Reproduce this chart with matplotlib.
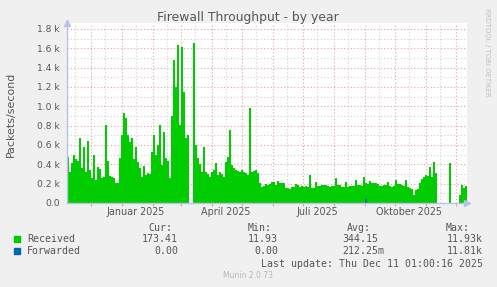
import numpy as np
import matplotlib
matplotlib.use("Agg")
import matplotlib.pyplot as plt
import matplotlib.dates as mdates
from matplotlib.ticker import MultipleLocator, FuncFormatter, NullFormatter
from matplotlib.patches import Rectangle

# two-day averages, packets/second, starting 2024-11-07 (None = no data)
start = np.datetime64('2024-11-07')
step_days = 2
received = [
    480, 325, 410, 497, 450, 430, 676, 360, 583, 325,
    640, 340, 255, 497, 238, 376, 350, 255, 270, 807,
    430, 280, 272, 260, 210, 204, 462, 700, 928, 876,
    700, 635, 670, 450, 583, 420, 359, 272, 380, 290,
    307, 300, 531, 703, 497, 600, 807, 393, 731, 462,
    430, 255, 900, 1480, 1200, 1635, 807, 1617, 1150, 670,
    700, 1290, None, 1652, 600, 462, 400, 325, 583, 325,
    300, 272, 325, 340, 410, 290, 325, 300, 272, 420,
    480, 755, 393, 360, 340, 330, 325, 340, 325, 310,
    290, 980, 325, 330, 340, 307, 203, 169, 175, 196,
    190, 200, 215, 220, 186, 231, 203, 210, 203, 160,
    152, 145, 165, 169, 196, 190, 169, 175, 165, 172,
    169, 290, 160, 152, 220, 176, 180, 186, 190, 186,
    180, 169, 172, 180, 255, 186, 190, 169, 165, 220,
    169, 172, 176, 180, 238, 186, 190, 180, 272, 203,
    200, 231, 203, 210, 203, 196, 176, 180, 186, 190,
    220, 175, 169, 172, 238, 200, 196, 190, 180, 238,
    170, 152, 140, 83, 134, 140, 203, 250, 272, 290,
    280, 376, 272, 428, 307, 480, None, None, None, None,
    None, 410, 186, None, None, None, 83, 186, 160, 173,
]
forwarded_spikes = {149: 40}
forwarded = [forwarded_spikes.get(i, 0) for i in range(len(received))]

quarter_names = {1: 'Januar', 4: 'April', 7: 'Juli', 10: 'Oktober'}

legend_rows = [
    ('Received', '#00CC00', ['173.41', '11.93', '344.15', '11.93k']),
    ('Forwarded', '#0066B3', ['0.00', '0.00', '212.25m', '11.81k']),
]
legend_heads = ['Cur:', 'Min:', 'Avg:', 'Max:']
last_update = 'Last update: Thu Dec 11 01:00:16 2025'

W, H = 497, 287
fig = plt.figure(figsize=(W / 100, H / 100), dpi=100, facecolor='#F0F0F0')
ax = fig.add_axes([67 / W, 84 / H, 400 / W, 180 / H])
ax.set_facecolor('white')

edges = start + np.arange(len(received) + 1) * np.timedelta64(step_days, 'D')
x = edges.astype('datetime64[D]').astype(object)
rec = np.array(received + [received[-1]], dtype=float)
fwd = np.array(forwarded + [forwarded[-1]], dtype=float)
ax.fill_between(x, 0, rec, step='post', color='#00CC00', linewidth=0, zorder=2)
ax.fill_between(x, 0, fwd, step='post', color='#0066B3', linewidth=0, zorder=3)

ax.set_xlim(x[0], (start + np.timedelta64(400, 'D')).astype(object))
ax.set_ylim(0, 1862)

ax.xaxis.set_major_locator(mdates.MonthLocator(bymonthday=1))
ax.xaxis.set_minor_locator(mdates.MonthLocator(bymonthday=15))
ax.xaxis.set_major_formatter(NullFormatter())


def month_label(v, pos):
    d = mdates.num2date(v)
    if d.month in quarter_names:
        return f'{quarter_names[d.month]} {d.year}'
    return ''


ax.xaxis.set_minor_formatter(FuncFormatter(month_label))
ax.yaxis.set_major_locator(MultipleLocator(200))
ax.yaxis.set_minor_locator(MultipleLocator(100))
ax.yaxis.set_major_formatter(FuncFormatter(
    lambda v, p: '0.0' if v == 0 else f'{v / 1000:.1f} k'))

ax.set_axisbelow(True)
ax.grid(which='major', color='#E8A0A0', linestyle=(0, (1, 2)), linewidth=0.8)
ax.grid(which='minor', color='#D0D0D0', linestyle=(0, (1, 2)), linewidth=0.8)

ax.tick_params(axis='x', which='major', length=2, color='#E8A0A0')
ax.tick_params(axis='x', which='minor', length=0, pad=3,
               labelsize=6.9, labelcolor='#555555')
ax.tick_params(axis='y', which='major', length=0, pad=5,
               labelsize=6.6, labelcolor='#555555')
ax.tick_params(axis='y', which='minor', length=0)

for s in ('top', 'right'):
    ax.spines[s].set_visible(False)
for s in ('left', 'bottom'):
    ax.spines[s].set_color('#B8C0EC')
    ax.spines[s].set_linewidth(1)
    ax.spines[s].set_zorder(4)
ax.plot([0], [1.0], marker='^', ms=4, color='#B8C0EC', transform=ax.transAxes,
        clip_on=False, zorder=5)
ax.plot([1.0], [0], marker='>', ms=4, color='#B8C0EC', transform=ax.transAxes,
        clip_on=False, zorder=5)

fig.text(248 / W, 1 - 18 / H, 'Firewall Throughput - by year', ha='center',
         va='center', fontsize=8.9, color='#555555')
fig.text(11 / W, 1 - 114 / H, 'Packets/second', rotation=90, ha='center',
         va='center', fontsize=7.9, color='#555555')
fig.text(487 / W, 1 - 52 / H, 'RRDTOOL / TOBI OETIKER', rotation=270,
         ha='center', va='center', fontsize=5, color='#C0C0C0')

mono = 'DejaVu Sans Mono'
fs = 7.1
col_right = [172, 272, 371, 470]
val_right = [178, 278, 378, 477]
for head, xr in zip(legend_heads, col_right):
    fig.text(xr / W, 1 - 228 / H, head, ha='right', va='center',
             family=mono, fontsize=fs, color='#555555')
for i, (name, color, vals) in enumerate(legend_rows):
    yy = 239 + i * 12
    fig.patches.append(Rectangle(((14) / W, 1 - (yy + 3) / H), 6 / W, 6 / H,
                                 transform=fig.transFigure, color=color))
    fig.text(27 / W, 1 - yy / H, name, ha='left', va='center',
             family=mono, fontsize=fs, color='#555555')
    for v, xr in zip(vals, val_right):
        if v[-1].isalpha():
            xr += 6
        fig.text(xr / W, 1 - yy / H, v, ha='right', va='center',
                 family=mono, fontsize=fs, color='#555555')
fig.text(483 / W, 1 - 264 / H, last_update, ha='right', va='center',
         family=mono, fontsize=fs, color='#555555')
fig.text(248 / W, 1 - 276 / H, 'Munin 2.0.73', ha='center', va='center',
         fontsize=5.5, color='#B8B8B8')

fig.savefig('out.png', dpi=100, facecolor=fig.get_facecolor())
